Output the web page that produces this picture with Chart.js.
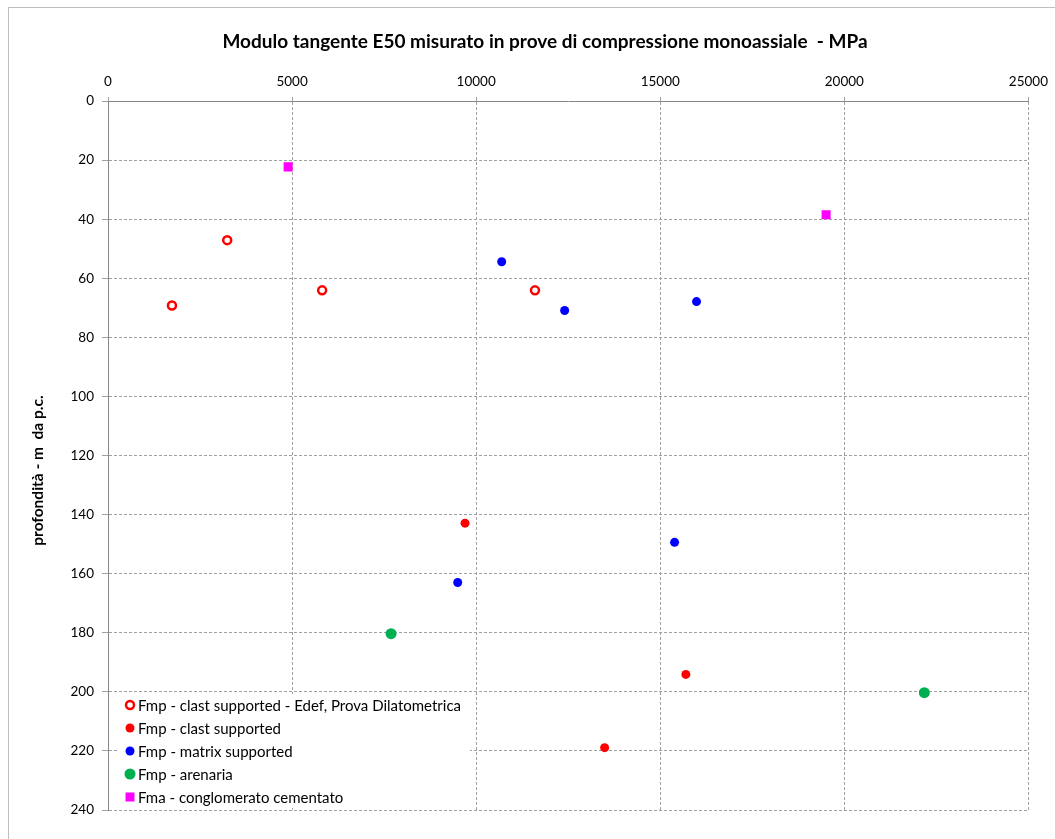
<!DOCTYPE html>
<html>
<head>
<meta charset="utf-8">
<script src="https://cdn.jsdelivr.net/npm/chart.js@4.4.0/dist/chart.umd.min.js"></script>
<style>
    html, body { margin: 0; padding: 0; background: #fff; }
    #wrap { position: relative; width: 1055px; height: 839px; }
    #frame { position: absolute; left: 8px; top: 7px; right: 0; bottom: 0; border-left: 1px solid #bdbdbd; border-top: 1px solid #bdbdbd; }
    canvas { position: absolute; left: 0; top: 0; }
</style>
</head>
<body>
<div id="wrap">
    <div id="frame"></div>
    <canvas id="e50Chart" width="1055" height="839"></canvas>
</div>
<script>
// dati (x = E50 in MPa, y = profondità in m)
const edefX = [1737, 3238, 5816, 11597];
const edefY = [69.2, 47.1, 64.1, 64.1];
const clastX = [9698, 15695, 13489];
const clastY = [142.9, 194.1, 218.9];
const matrixX = [10693, 12403, 15985, 15389, 9499];
const matrixY = [54.4, 70.9, 67.9, 149.4, 163.0];
const arenariaX = [7689, 22173];
const arenariaY = [180.3, 200.3];
const conglX = [4893, 19505];
const conglY = [22.3, 38.5];

const seriesLabels = [
    'Fmp - clast supported - Edef, Prova Dilatometrica',
    'Fmp - clast supported',
    'Fmp - matrix supported',
    'Fmp - arenaria',
    'Fma - conglomerato cementato'
];

const toPoints = (xs, ys) => xs.map((x, i) => ({ x: x, y: ys[i] }));

const FONT = 'Lato, "Open Sans", sans-serif';

// legenda disegnata dentro l'area del grafico, in basso a sinistra
const insideLegend = {
    id: 'insideLegend',
    afterDatasetsDraw(chart) {
        const ctx = chart.ctx;
        ctx.save();
        ctx.fillStyle = '#ffffff';
        ctx.fillRect(117, 694, 353, 114);
        ctx.font = '15px ' + FONT;
        ctx.textBaseline = 'middle';
        chart.data.datasets.forEach((ds, i) => {
            const y = 705 + i * 23;
            const x = 130;
            if (ds.pointStyle === 'rect') {
                ctx.fillStyle = ds.backgroundColor;
                ctx.fillRect(x - 4.5, y - 4.5, 9, 9);
            } else {
                ctx.beginPath();
                ctx.arc(x, y, ds.pointRadius, 0, Math.PI * 2);
                ctx.fillStyle = ds.backgroundColor;
                ctx.fill();
                if (ds.pointBorderWidth > 1) {
                    ctx.lineWidth = ds.pointBorderWidth;
                    ctx.strokeStyle = ds.borderColor;
                    ctx.stroke();
                }
            }
            ctx.fillStyle = '#000';
            ctx.fillText(ds.label, 138, y + 1);
        });
        ctx.restore();
    }
};

const plainTick = (value) => String(value);

const ctx = document.getElementById('e50Chart').getContext('2d');

new Chart(ctx, {
    type: 'scatter',
    data: {
        datasets: [
            {
                label: seriesLabels[0],
                data: toPoints(edefX, edefY),
                backgroundColor: '#ffffff',
                borderColor: '#ff0000',
                pointRadius: 4,
                pointBorderWidth: 2.5,
                pointHoverRadius: 4
            },
            {
                label: seriesLabels[1],
                data: toPoints(clastX, clastY),
                backgroundColor: '#ff0000',
                borderColor: '#ff0000',
                pointRadius: 4.5,
                pointBorderWidth: 0
            },
            {
                label: seriesLabels[2],
                data: toPoints(matrixX, matrixY),
                backgroundColor: '#0000ff',
                borderColor: '#0000ff',
                pointRadius: 4.5,
                pointBorderWidth: 0
            },
            {
                label: seriesLabels[3],
                data: toPoints(arenariaX, arenariaY),
                backgroundColor: '#00b050',
                borderColor: '#00b050',
                pointRadius: 5.5,
                pointBorderWidth: 0
            },
            {
                label: seriesLabels[4],
                data: toPoints(conglX, conglY),
                backgroundColor: '#ff00ff',
                borderColor: '#ff00ff',
                pointStyle: 'rect',
                pointRadius: 6.4,
                pointBorderWidth: 0
            }
        ]
    },
    options: {
        responsive: false,
        animation: false,
        // padding sinistro per centrare il titolo come nell'originale
        layout: { padding: { top: 0, left: 61, right: 26, bottom: 29 } },
        plugins: {
            legend: { display: false },
            tooltip: { enabled: false },
            title: {
                display: true,
                text: 'Modulo tangente E50 misurato in prove di compressione monoassiale  - MPa',
                color: '#000',
                font: { family: FONT, size: 19, weight: 'bold' },
                padding: { top: 30, bottom: 0 }
            }
        },
        scales: {
            x: {
                type: 'linear',
                position: 'top',
                min: 0,
                max: 25000,
                ticks: { stepSize: 5000, color: '#000', font: { family: FONT, size: 13.5 }, padding: 7, callback: plainTick },
                grid: { color: '#a0a0a0', tickLength: 4, tickColor: '#a0a0a0' },
                border: { display: true, color: '#868686', dash: [3, 2] },
                afterFit(scale) { scale.height = 101 - 52.8; }
            },
            y: {
                type: 'linear',
                reverse: true,
                min: 0,
                max: 240,
                ticks: { stepSize: 20, color: '#000', font: { family: FONT, size: 13.5 }, padding: 8, callback: plainTick },
                grid: { color: '#a0a0a0', tickLength: 6, tickColor: '#a0a0a0' },
                border: { display: true, color: '#868686', dash: [3, 2] },
                title: {
                    display: true,
                    text: 'profondità - m  da p.c.        ',
                    color: '#000',
                    font: { family: FONT, size: 15.5, weight: 'bold' },
                    padding: { top: -32, bottom: 0 }
                },
                afterFit(scale) { scale.width = 47; }
            }
        }
    },
    plugins: [insideLegend]
});
</script>
</body>
</html>
